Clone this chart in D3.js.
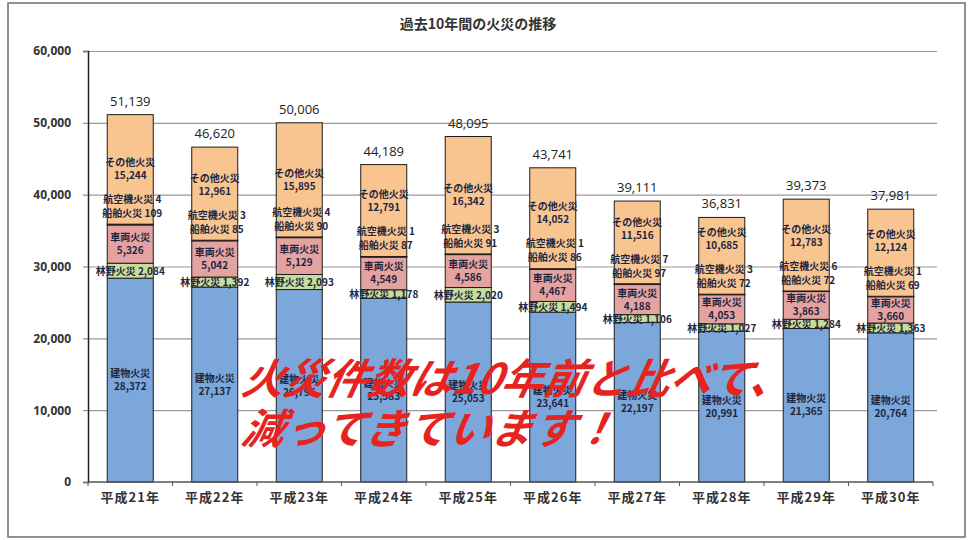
<!DOCTYPE html>
<html>
<head>
<meta charset="utf-8">
<script src="https://cdn.jsdelivr.net/npm/d3@7"></script>
<style>
  body { margin: 0; background: #fff; }
  svg { display: block; font-family: "Noto Sans CJK JP", "Noto Sans", sans-serif; }
</style>
</head>
<body>
<div class="chart-container"></div>
<script>
// data
const years = ["平成21年", "平成22年", "平成23年", "平成24年", "平成25年", "平成26年", "平成27年", "平成28年", "平成29年", "平成30年"];
const building = [28372, 27137, 26795, 25583, 25053, 23641, 22197, 20991, 21365, 20764];
const forest = [2084, 1392, 2093, 1178, 2020, 1494, 1106, 1027, 1284, 1363];
const vehicle = [5326, 5042, 5129, 4549, 4586, 4467, 4188, 4053, 3863, 3660];
const ship = [109, 85, 90, 87, 91, 86, 97, 72, 72, 69];
const aircraft = [4, 3, 4, 1, 3, 1, 7, 3, 6, 1];
const other = [15244, 12961, 15895, 12791, 16342, 14052, 11516, 10685, 12783, 12124];
const yTicks = [0, 10000, 20000, 30000, 40000, 50000, 60000];
const seriesNames = ["建物火災", "林野火災", "車両火災", "船舶火災", "航空機火災", "その他火災"];
const title = "過去10年間の火災の推移";
const message = ["火災件数は10年前と比べて、", "減ってきています！"];

function draw() {
    const width = 970;
    const height = 540;
    const marginTop = 51;
    const marginRight = 37;
    const marginBottom = 58;
    const marginLeft = 88;

    const keys = ["building", "forest", "vehicle", "ship", "aircraft", "other"];
    const colors = {building: "#7ca7da", forest: "#c8dd9c", vehicle: "#e4a3a0", ship: "#8a78b8", aircraft: "#5ab0c8", other: "#f8c590"};
    const rows = years.map((yr, i) => ({
        year: yr, building: building[i], forest: forest[i], vehicle: vehicle[i],
        ship: ship[i], aircraft: aircraft[i], other: other[i]
    }));
    const stacked = d3.stack().keys(keys)(rows);
    const byKey = {};
    stacked.forEach(s => byKey[s.key] = s);

    const x = d3.scaleBand()
        .domain(years)
        .range([marginLeft, width - marginRight])
        .paddingInner(0.4556)
        .paddingOuter(0.2278);

    const y = d3.scaleLinear()
        .domain([0, 60000])
        .range([height - marginBottom, marginTop]);

    const svg = d3.select('.chart-container').append("svg")
        .attr("width", width)
        .attr("height", height);

    // page frame
    svg.append("rect")
        .attr("x", 8).attr("y", 3)
        .attr("width", 957).attr("height", 534)
        .attr("fill", "none")
        .attr("stroke", "#6d6d6d")
        .attr("stroke-width", 1.5);

    // title
    svg.append("text")
        .attr("x", 478).attr("y", 29)
        .attr("text-anchor", "middle")
        .attr("font-size", 14)
        .attr("font-weight", "bold")
        .attr("fill", "#333")
        .text(title);

    // gridlines
    svg.append("g")
        .attr("transform", `translate(${marginLeft},0)`)
        .call(d3.axisLeft(y).tickValues(yTicks.slice(1)).tickSize(-(width - marginRight - marginLeft + 4)).tickFormat(""))
        .call(g => g.select(".domain").remove())
        .call(g => g.selectAll("line").attr("stroke", "#9a9a9a").attr("stroke-width", 1.2));

    // y axis
    svg.append("g")
        .attr("transform", `translate(${marginLeft},0)`)
        .call(d3.axisLeft(y).tickValues(yTicks).tickSize(5).tickPadding(12).tickFormat(d3.format(",")))
        .call(g => g.select(".domain").attr("stroke", "#222").attr("stroke-width", 1.5))
        .call(g => g.selectAll("line").attr("stroke", "#777"))
        .call(g => g.selectAll("text").attr("font-size", 12).attr("font-weight", "bold").attr("fill", "#333")
            .attr("font-family", "'Open Sans', 'Noto Sans', sans-serif"));

    // bars
    keys.forEach(k => {
        svg.append("g").selectAll("rect")
            .data(byKey[k])
            .join("rect")
            .attr("x", (d, i) => x(years[i]))
            .attr("y", d => y(d[1]))
            .attr("width", x.bandwidth())
            .attr("height", d => y(d[0]) - y(d[1]))
            .attr("fill", colors[k])
            .attr("stroke", "#1d1d1d")
            .attr("stroke-width", 1);
    });

    // x axis
    const xAxis = svg.append("g")
        .attr("transform", `translate(0,${y(0)})`);
    xAxis.append("line")
        .attr("x1", marginLeft).attr("x2", width - marginRight)
        .attr("stroke", "#555").attr("stroke-width", 1.5);
    const half = x.step() * x.paddingInner() / 2;
    xAxis.selectAll(".tick-b")
        .data(years.concat(["end"]))
        .join("line")
        .attr("x1", (d, i) => i < years.length ? x(d) - half : x(years[years.length - 1]) + x.bandwidth() + half)
        .attr("x2", (d, i) => i < years.length ? x(d) - half : x(years[years.length - 1]) + x.bandwidth() + half)
        .attr("y1", 0).attr("y2", 4)
        .attr("stroke", "#555");
    xAxis.selectAll("text")
        .data(years)
        .join("text")
        .attr("x", d => x(d) + x.bandwidth() / 2)
        .attr("y", 20)
        .attr("text-anchor", "middle")
        .attr("font-size", 13)
        .attr("letter-spacing", 1)
        .attr("font-weight", "bold")
        .attr("fill", "#333")
        .text(d => d);

    // labels
    const fmt = d3.format(",");
    const lab = svg.append("g")
        .attr("font-size", 10)
        .attr("font-weight", "bold")
        .attr("fill", "#1e2640")
        .attr("text-anchor", "middle");

    years.forEach((yr, i) => {
        const cx = x(yr) + x.bandwidth() / 2;
        const mid = k => (y(byKey[k][i][0]) + y(byKey[k][i][1])) / 2;
        const twoLines = (m, name, v) => {
            lab.append("text").attr("x", cx).attr("y", m - 3).text(name);
            lab.append("text").attr("x", cx).attr("y", m + 10).text(fmt(v));
        };
        twoLines(mid("building"), seriesNames[0], building[i]);
        lab.append("text").attr("x", cx).attr("y", mid("forest") + 4)
            .text(seriesNames[1] + " " + fmt(forest[i]));
        twoLines(mid("vehicle"), seriesNames[2], vehicle[i]);
        const vTop = y(byKey.vehicle[i][1]);
        lab.append("text").attr("x", cx + 2).attr("y", vTop - 22).text(seriesNames[4] + " " + aircraft[i]);
        lab.append("text").attr("x", cx + 2).attr("y", vTop - 8).text(seriesNames[3] + " " + ship[i]);
        // keep the "other" label clear of the aircraft / ship labels
        twoLines(Math.min(mid("other"), vTop - 56), seriesNames[5], other[i]);

        const total = byKey.other[i][1];
        svg.append("text")
            .attr("x", cx).attr("y", y(total) - 9)
            .attr("text-anchor", "middle")
            .attr("font-size", 13)
            .attr("fill", "#222")
            .attr("font-family", "'Open Sans', 'Noto Sans', sans-serif")
            .text(fmt(total));
    });

    // red message
    const msg = svg.append("g")
        .attr("font-size", 42)
        .attr("font-weight", "bold")
        .attr("font-style", "italic")
        .attr("fill", "#e5231f");
    msg.selectAll("text")
        .data(message)
        .join("text")
        .attr("x", 240)
        .attr("y", (d, i) => 394 + i * 50)
        .attr("transform", (d, i) => `skewX(-12) translate(${(394 + i * 50) * Math.tan(12 * Math.PI / 180)},0)`)
        .text(d => d);
}

draw();
</script>
</body>
</html>
